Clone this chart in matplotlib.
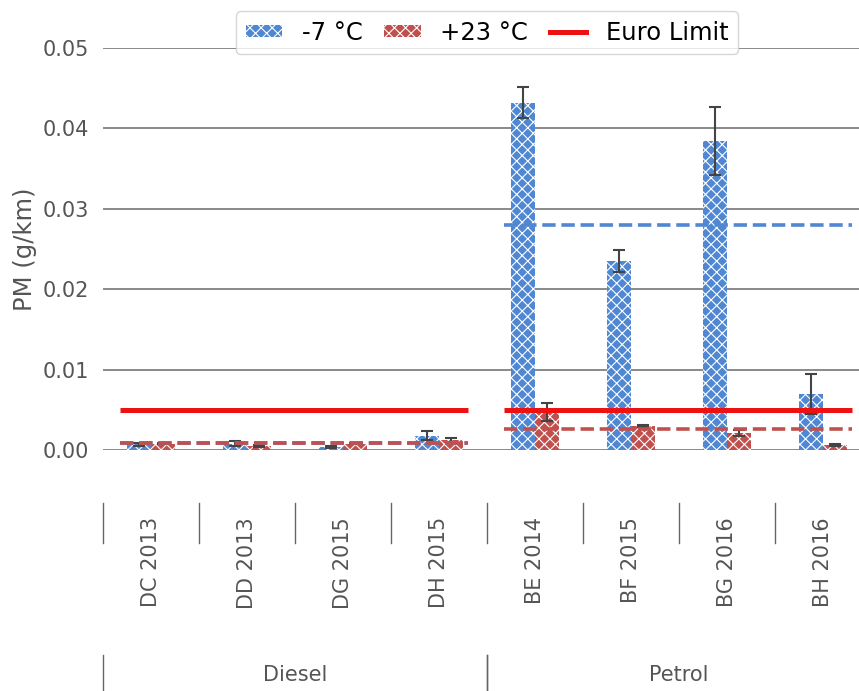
import numpy as np
import matplotlib.pyplot as plt
from matplotlib.transforms import blended_transform_factory
from matplotlib.patches import Patch
from matplotlib.lines import Line2D

plt.rcParams['hatch.color'] = 'white'
plt.rcParams['hatch.linewidth'] = 0.8

# PM-выбросы по автомобилям, два температурных режима
cars = ['DC 2013', 'DD 2013', 'DG 2015', 'DH 2015',
        'BE 2014', 'BF 2015', 'BG 2016', 'BH 2016']
groups = ['Diesel', 'Petrol']
group_size = [4, 4]

pm_cold = [0.0007, 0.0008, 0.0004, 0.0018, 0.0432, 0.0235, 0.0384, 0.0070]
err_cold = [0.0002, 0.0003, 0.0001, 0.0006, 0.0019, 0.0014, 0.0042, 0.0025]
pm_warm = [0.0008, 0.0005, 0.0008, 0.0012, 0.0047, 0.0030, 0.0021, 0.0006]
err_warm = [0.0001, 0.0001, 0.0001, 0.0003, 0.0011, 0.0001, 0.0004, 0.0001]

euro_limit = [0.005, 0.005]

c_blue = '#4f87d3'
c_red = '#c0504d'
c_limit = '#ee1111'
c_text = '#555555'

fig = plt.figure(figsize=(8.59, 6.91), dpi=100)
ax = fig.add_axes([103 / 859, 1 - 450 / 691, 1 - 103 / 859, 402 / 691])

x = np.arange(len(cars))
w = 0.25
err_kw = dict(ecolor='#444444', elinewidth=1.5, capsize=4, capthick=1.5)
ax.bar(x - w / 2, pm_cold, w, yerr=err_cold, color=c_blue, hatch='xxx',
       edgecolor='white', linewidth=0, error_kw=err_kw, zorder=2)
ax.bar(x + w / 2, pm_warm, w, yerr=err_warm, color=c_red, hatch='xxx',
       edgecolor='white', linewidth=0, error_kw=err_kw, zorder=2)

# средние по группе пунктиром и норма Euro сплошной линией
start = 0
for gi, n in enumerate(group_size):
    idx = slice(start, start + n)
    x0, x1 = start - 0.32, start + n - 1 + 0.3
    ax.hlines(np.mean(pm_cold[idx]), x0, x1, colors=c_blue, linestyles='--',
              linewidth=2.6, zorder=3)
    ax.hlines(np.mean(pm_warm[idx]), x0, x1, colors=c_red, linestyles='--',
              linewidth=2.6, zorder=3)
    ax.hlines(euro_limit[gi], x0, x1, colors=c_limit, linewidth=3.6, zorder=4)
    start += n

ax.set_xlim(-0.5, 7.375)
ax.set_ylim(0, 0.05)
ax.set_yticks(np.arange(0, 0.051, 0.01))
ax.set_yticklabels([f'{v:.2f}' for v in np.arange(0, 0.051, 0.01)])
ax.yaxis.grid(True, color='#808080', linewidth=1.3, zorder=0)
ax.set_axisbelow(True)
for s in ax.spines.values():
    s.set_visible(False)
ax.tick_params(axis='y', length=0, pad=10, labelsize=15, labelcolor=c_text)
ax.set_xticks([])
ax.set_ylabel('PM (g/km)', fontsize=17.5, color=c_text, labelpad=4)

# двухуровневые подписи оси X
tr = blended_transform_factory(ax.transData, fig.transFigure)
for i, name in enumerate(cars):
    ax.text(i, 1 - 517 / 691, name, transform=tr, rotation=90, ha='center',
            va='top', fontsize=15, color=c_text, clip_on=False)
for b in np.arange(-0.5, len(cars), 1.0):
    ax.plot([b, b], [1 - 503 / 691, 1 - 543 / 691], transform=tr,
            color='#666666', linewidth=1.0, clip_on=False)
start = 0
for gname, n in zip(groups, group_size):
    ax.text(start + (n - 1) / 2, 1 - 675 / 691, gname, transform=tr,
            ha='center', va='center', fontsize=15, color=c_text, clip_on=False)
    for b in (start - 0.5, start + n - 0.5):
        ax.plot([b, b], [1 - 655 / 691, 0], transform=tr,
                color='#666666', linewidth=1.0, clip_on=False)
    start += n

handles = [Patch(facecolor=c_blue, hatch='xxx', edgecolor='white', linewidth=0, label='-7 °C'),
           Patch(facecolor=c_red, hatch='xxx', edgecolor='white', linewidth=0, label='+23 °C'),
           Line2D([0], [0], color=c_limit, linewidth=3.6, label='Euro Limit')]
fig.legend(handles=handles, loc='upper center', bbox_to_anchor=(0.567, 1 - 11 / 691),
           ncol=3, fontsize=17.5, handlelength=1.5, handleheight=0.4,
           handletextpad=0.8, columnspacing=0.9, frameon=True, borderaxespad=0,
           edgecolor='#cccccc', fancybox=True, borderpad=0.4)

fig.savefig('out.png', dpi=100)
